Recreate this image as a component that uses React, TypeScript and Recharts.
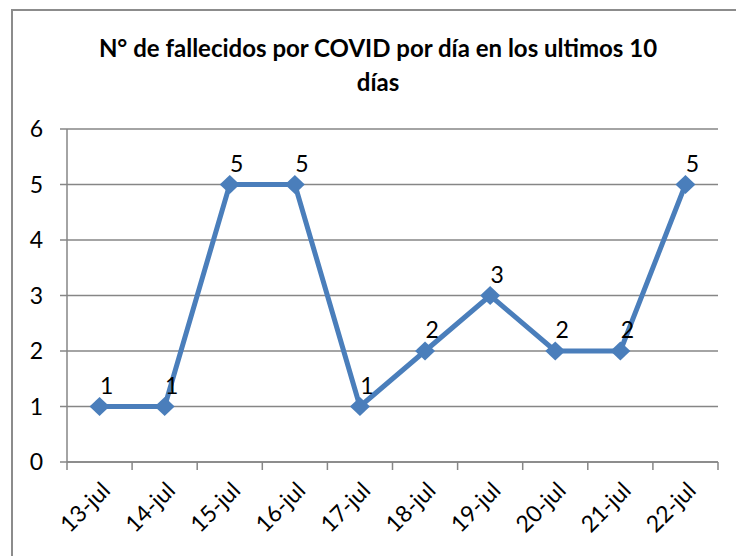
import { LineChart, Line, XAxis, YAxis, CartesianGrid } from 'recharts';

const days = ['13-jul', '14-jul', '15-jul', '16-jul', '17-jul', '18-jul', '19-jul', '20-jul', '21-jul', '22-jul'];
const deaths = [1, 1, 5, 5, 1, 2, 3, 2, 2, 5];
const yTicks = [0, 1, 2, 3, 4, 5, 6];

const data = days.map((day, i) => ({ day, value: deaths[i] }));

const W = 736;
const H = 556;
const M = { top: 129, right: 18, left: 7, bottom: 93 };
const Y_W = 60;
const BAND = (W - M.left - M.right - Y_W) / days.length;

const FONT = 'Lato, "Open Sans", sans-serif';
const GRID = '#868686';
const BLUE = '#4A7EBB';

function Diamond(props: any) {
  const { cx, cy, index } = props;
  const rx = 10;
  const ry = 9.5;
  return (
    <polygon
      key={`d-${index}`}
      points={`${cx},${cy - ry} ${cx + rx},${cy} ${cx},${cy + ry} ${cx - rx},${cy}`}
      fill={BLUE}
    />
  );
}

// category labels sit at band centres, but the tick marks go on the band edges
function DayTick({ x, y, payload, index }: any) {
  const ax = x + 12;
  const ay = y + 22;
  const left = x - BAND / 2;
  const right = x + BAND / 2;
  return (
    <g>
      <line x1={left} x2={left} y1={y - 8} y2={y} stroke={GRID} strokeWidth={1.5} />
      {index === days.length - 1 && (
        <line x1={right} x2={right} y1={y - 8} y2={y} stroke={GRID} strokeWidth={1.5} />
      )}
      <text
        x={ax}
        y={ay}
        transform={`rotate(-45, ${ax}, ${ay})`}
        textAnchor="end"
        fontSize={23}
        fontFamily={FONT}
        fill="#000"
      >
        {payload.value}
      </text>
    </g>
  );
}

export default function App() {
  return (
    <div style={{ position: 'absolute', left: 0, top: 0, width: W, height: H, background: '#fff', overflow: 'hidden' }}>
      <div style={{ position: 'absolute', left: 11, top: 9, width: 800, height: 600, border: '2px solid #8c8c8c' }} />
      <div style={{
        position: 'absolute', left: 0, top: 31, width: 756, textAlign: 'center',
        fontFamily: FONT, fontWeight: 700, fontSize: 24, lineHeight: '34px', color: '#000',
      }}>
        N° de fallecidos por COVID por día en los ultimos 10<br />días
      </div>
      <div style={{ position: 'absolute', left: 0, top: 0 }}>
        <LineChart width={W} height={H} data={data} margin={M}>
          <CartesianGrid vertical={false} stroke={GRID} strokeWidth={1.5} />
          <XAxis
            dataKey="day"
            scale="band"
            height={1}
            tickSize={8}
            tickMargin={0}
            axisLine={{ stroke: GRID, strokeWidth: 1.5 }}
            tickLine={false}
            interval={0}
            tick={<DayTick />}
          />
          <YAxis
            width={Y_W}
            domain={[0, 6]}
            ticks={yTicks}
            tickSize={7}
            tickMargin={17}
            axisLine={{ stroke: GRID, strokeWidth: 1.5 }}
            tickLine={{ stroke: GRID, strokeWidth: 1.5 }}
            tick={{ fontSize: 23, fill: '#000', fontFamily: FONT }}
          />
          <Line
            dataKey="value"
            stroke={BLUE}
            strokeWidth={5}
            dot={<Diamond />}
            activeDot={false}
            isAnimationActive={false}
            label={{ position: 'top', offset: 13, fontSize: 23, fill: '#000', fontFamily: FONT, dx: 7 }}
          />
        </LineChart>
      </div>
    </div>
  );
}
